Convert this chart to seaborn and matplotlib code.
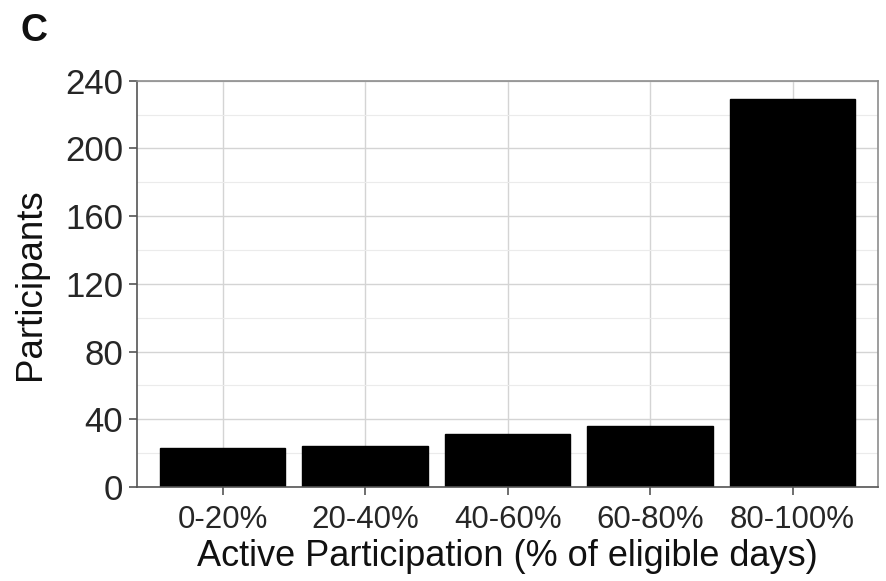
import pandas as pd
import matplotlib.pyplot as plt
import seaborn as sns

# --- Data ---
categories = ["0-20%", "20-40%", "40-60%", "60-80%", "80-100%"]
participants = [23, 24, 31, 36, 229]

df = pd.DataFrame({"bin": categories, "n": participants})

sns.set_theme(style="white")
plt.rcParams["font.family"] = ["Liberation Sans", "DejaVu Sans"]

fig = plt.figure(figsize=(8.87, 5.81), dpi=100)
ax = fig.add_axes([0.1545, 0.162, 0.8355, 0.699])

sns.barplot(data=df, x="bin", y="n", color="black", width=0.88,
            saturation=1, ax=ax, edgecolor="black")

# ggplot-like grid
ax.set_axisbelow(True)
ax.set_yticks(range(0, 241, 40))
ax.set_yticks(range(20, 241, 40), minor=True)
ax.yaxis.grid(True, which="major", color="#d4d4d4", linewidth=1.0)
ax.yaxis.grid(True, which="minor", color="#ebebeb", linewidth=0.8)
ax.xaxis.grid(True, which="major", color="#d4d4d4", linewidth=1.0)

ax.set_ylim(0, 240)
ax.set_xlim(-0.6, 4.6)

for s in ax.spines.values():
    s.set_color("#8c8c8c")
    s.set_linewidth(1.2)
    s.set_visible(True)
ax.spines["left"].set_color("#555555")
ax.spines["bottom"].set_color("#555555")

ax.tick_params(axis="both", which="major", length=6, width=1.2, color="#555555",
               labelcolor="#262626", direction="out")
ax.tick_params(axis="y", labelsize=25, pad=4)
ax.tick_params(axis="x", labelsize=22.5, pad=7)
ax.tick_params(axis="both", which="minor", length=0)
ax.tick_params(axis="x", bottom=True)
ax.tick_params(axis="y", left=True)

ax.set_xlabel("Active Participation (% of eligible days)", fontsize=26,
              color="#111111", labelpad=3)
ax.set_ylabel("Participants", fontsize=26.5, color="#111111", labelpad=12)

fig.text(0.023, 0.947, "C", fontsize=27, fontweight="bold", color="#111111",
         va="center", ha="left")

fig.savefig("out.png", dpi=100)
